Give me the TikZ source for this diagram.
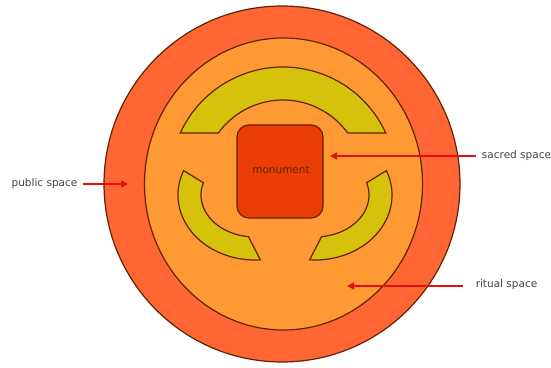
\documentclass[tikz,border=0pt]{standalone}
\usepackage{fontspec}
\setmainfont{DejaVu Sans}
\usetikzlibrary{arrows.meta,calc}
\definecolor{outerc}{RGB}{255,102,51}
\definecolor{innerc}{RGB}{255,153,51}
\definecolor{yellowc}{RGB}{214,194,10}
\definecolor{monc}{RGB}{234,62,4}
\definecolor{edgec}{RGB}{95,35,5}
\definecolor{arrowc}{RGB}{230,15,15}
\definecolor{labelc}{RGB}{65,65,65}
\tikzset{
  zone/.style={draw=edgec, line width=1.2pt},
  lbl/.style={text=labelc, font=\fontsize{10.5}{12}\selectfont, inner sep=0pt},
  pointer/.style={draw=arrowc, line width=1.6pt, -{Triangle[length=7pt,width=7pt]}}
}
\begin{document}
\begin{tikzpicture}[x=1pt,y=1pt]
\useasboundingbox (0,0) rectangle (551,367);
% outer public space
\draw[zone, fill=outerc] (282,183) circle[radius=178pt];
% inner ritual space
\draw[zone, fill=innerc] (283.5,183) ellipse[x radius=139pt, y radius=146pt];
% top arc
\draw[zone, fill=yellowc]
  ($(283,187)+(24.6:113)$) arc[start angle=24.6, end angle=155.4, radius=113pt]
  -- ($(283,187)+(144:80)$) arc[start angle=144, end angle=36, radius=80pt]
  -- cycle;
% lower left arc
\draw[zone, fill=yellowc]
  ($(255,172)+(158:77 and 65)$) arc[start angle=158, end angle=274, x radius=77pt, y radius=65pt]
  -- ($(255,172)+(263:54 and 42)$) arc[start angle=263, end angle=163, x radius=54pt, y radius=42pt]
  -- cycle;
% lower right arc
\draw[zone, fill=yellowc]
  ($(315,172)+(22:77 and 65)$) arc[start angle=22, end angle=-94, x radius=77pt, y radius=65pt]
  -- ($(315,172)+(-83:54 and 42)$) arc[start angle=-83, end angle=17, x radius=54pt, y radius=42pt]
  -- cycle;
% monument
\draw[zone, fill=monc, rounded corners=12pt] (237,149) rectangle (323,242);
\node[lbl, text=edgec] (mon) at (281,197) {monument};
% labels and pointers
\node[lbl] (pub) at (44.5,183) {public space};
\coordinate (pubtip) at (128,183);
\draw[pointer] ([xshift=5pt]pub.east) -- (pubtip);
\node[lbl] (sac) at (516.5,211) {sacred space};
\coordinate (sactip) at (330,211);
\draw[pointer] ([xshift=-6pt]sac.west) -- (sactip);
\node[lbl] (rit) at (506.5,82) {ritual space};
\coordinate (rittip) at (347,81);
\draw[pointer] ([xshift=-13pt,yshift=-1pt]rit.west) -- (rittip);
\end{tikzpicture}
\end{document}
